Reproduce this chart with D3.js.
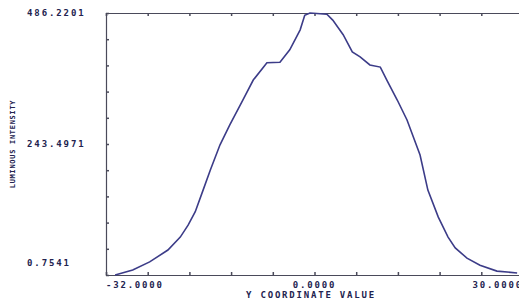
<!DOCTYPE html>
<meta charset="utf-8">
<script src="https://d3js.org/d3.v7.min.js"></script>
<style>
  body { margin: 0; background: #fff; }
  text { font-family: "DejaVu Sans Mono", monospace; font-weight: bold; fill: #23234f; }
</style>
<div id="my_dataviz"></div>
<script>
// profile: y coordinate vs intensity
var coordValues = [-30.6, -27.9, -25.3, -22.5, -20.6, -19.4, -18.3, -17.1, -16.0, -14.5,
  -13.0, -11.0, -9.4, -7.3, -5.3, -3.8, -2.2, -1.5, -0.7, 1.9, 2.8, 4.4, 5.8, 7.0, 8.5,
  10.1, 11.1, 12.7, 14.2, 16.2, 17.4, 19.0, 20.5, 21.6, 23.4, 25.4, 28.0, 31.1]
var intensityValues = [0.8, 10, 25, 47, 71, 93, 118, 158, 195, 242,
  279, 325, 362, 394, 395, 418, 455, 482, 486.2, 484, 473, 446, 414, 405, 390,
  386, 362, 325, 288, 223, 158, 108, 71, 51, 32, 19, 8, 4.5]

var xTickValues = [-32, 0, 32]
var xTickLabels = ["-32.0000", "0.0000", "30.0000"]
var yTickValues = [0.7541, 243.4871, 486.2201]
var yTickLabels = ["0.7541", "243.4971", "486.2201"]

var width = 519, height = 306
var plotLeft = 106, plotRight = 523, plotTop = 13, plotBottom = 275

var svg = d3.select("#my_dataviz").append("svg")
    .attr("width", width)
    .attr("height", height)

var x = d3.scaleLinear().domain([-32, 32]).range([plotLeft, plotRight])
var y = d3.scaleLinear().domain([0.7541, 486.2201]).range([plotBottom, plotTop])

// frame with small inward ticks on every side
var axisColor = "#4a4a5a"
var xSteps = d3.range(11).map(function(i){ return -32 + i * 6.4 })
var ySteps = d3.range(11).map(function(i){ return 0.7541 + i * (486.2201 - 0.7541) / 10 })
svg.append("g").attr("transform", "translate(0," + plotBottom + ")")
  .call(d3.axisTop(x).tickValues(xSteps).tickSize(3).tickFormat(""))
svg.append("g").attr("transform", "translate(0," + plotTop + ")")
  .call(d3.axisBottom(x).tickValues(xSteps).tickSize(3).tickFormat(""))
svg.append("g").attr("transform", "translate(" + plotLeft + ",0)")
  .call(d3.axisRight(y).tickValues(ySteps).tickSize(3).tickFormat(""))
svg.append("g").attr("transform", "translate(" + plotRight + ",0)")
  .call(d3.axisLeft(y).tickValues(ySteps).tickSize(3).tickFormat(""))
svg.selectAll(".domain").attr("stroke", axisColor).attr("stroke-width", 1.2)
svg.selectAll(".tick line").attr("stroke", axisColor).attr("stroke-width", 1.5)

// y labels, left aligned
svg.selectAll(".ylab")
  .data(yTickValues)
  .enter().append("text")
    .attr("class", "ylab")
    .attr("x", 27)
    .attr("y", function(d, i){ return y(d) + (i == 0 ? -12 : 0) })
    .attr("dy", "0.35em")
    .style("font-size", "9px")
    .style("letter-spacing", "1.9px")
    .text(function(d, i){ return yTickLabels[i] })

// x labels
svg.selectAll(".xlab")
  .data(xTickValues)
  .enter().append("text")
    .attr("class", "xlab")
    .attr("x", function(d){ return x(d) })
    .attr("y", 288)
    .attr("text-anchor", function(d, i){ return ["start", "middle", "end"][i] })
    .style("font-size", "9px")
    .style("letter-spacing", "1.8px")
    .text(function(d, i){ return xTickLabels[i] })

svg.append("text")
  .attr("x", 311)
  .attr("y", 298)
  .attr("text-anchor", "middle")
  .style("font-size", "9px")
  .style("letter-spacing", "1.8px")
  .text("Y COORDINATE VALUE")

svg.append("text")
  .attr("transform", "translate(15,144) rotate(-90)")
  .attr("text-anchor", "middle")
  .style("font-size", "7px")
  .style("letter-spacing", "0.7px")
  .text("LUMINOUS INTENSITY")

// the curve
var data = coordValues.map(function(d, i){ return { c: d, v: intensityValues[i] } })
svg.append("path")
  .datum(data)
  .attr("fill", "none")
  .attr("stroke", "#3c3c88")
  .attr("stroke-width", 1.6)
  .attr("d", d3.line().x(function(d){ return x(d.c) }).y(function(d){ return y(d.v) }))
</script>
